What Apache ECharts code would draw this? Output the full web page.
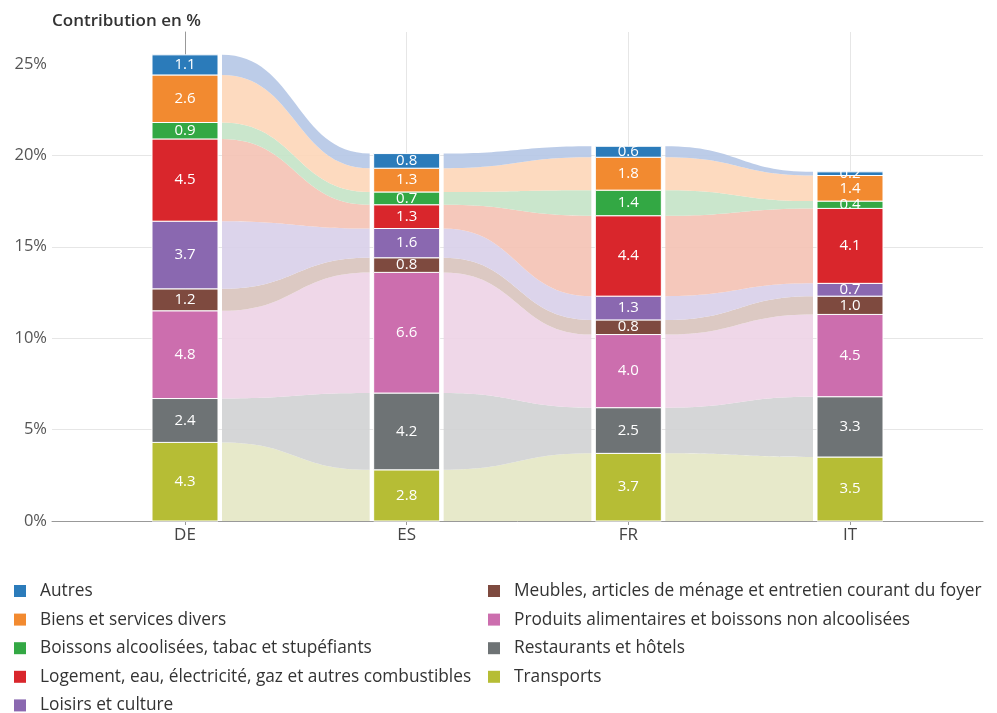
<!DOCTYPE html>
<html><head><meta charset="utf-8">
<script src="https://cdn.jsdelivr.net/npm/echarts@6/dist/echarts.min.js"></script>
<style>html,body{margin:0;padding:0;background:#fff}#c{width:997px;height:713px}</style>
</head><body><div id="c"></div>
<script>
// ---- DATA ----
const countries = ['DE', 'ES', 'FR', 'IT'];
const categoryNames = [
  'Transports',
  'Restaurants et hôtels',
  'Produits alimentaires et boissons non alcoolisées',
  'Meubles, articles de ménage et entretien courant du foyer',
  'Loisirs et culture',
  'Logement, eau, électricité, gaz et autres combustibles',
  'Boissons alcoolisées, tabac et stupéfiants',
  'Biens et services divers',
  'Autres'
];
const transports  = [4.3, 2.8, 3.7, 3.5];
const restaurants = [2.4, 4.2, 2.5, 3.3];
const produits    = [4.8, 6.6, 4.0, 4.5];
const meubles     = [1.2, 0.8, 0.8, 1.0];
const loisirs     = [3.7, 1.6, 1.3, 0.7];
const logement    = [4.5, 1.3, 4.4, 4.1];
const boissons    = [0.9, 0.7, 1.4, 0.4];
const biens       = [2.6, 1.3, 1.8, 1.4];
const autres      = [1.1, 0.8, 0.6, 0.2];
const yTicks = [0, 5, 10, 15, 20, 25];
const legendLeft = ['Autres', 'Biens et services divers', 'Boissons alcoolisées, tabac et stupéfiants',
  'Logement, eau, électricité, gaz et autres combustibles', 'Loisirs et culture'];
const legendRight = ['Meubles, articles de ménage et entretien courant du foyer',
  'Produits alimentaires et boissons non alcoolisées', 'Restaurants et hôtels', 'Transports'];

// ---- STYLE ----
const barColors = ['#b6bd35', '#6e7375', '#cc6eae', '#7e4a3f', '#8a68b0', '#d9262c', '#33a844', '#f28a30', '#2b7bba'];
const ribbonColors = ['#e4e7c4', '#d0d1d3', '#edd3e6', '#d8c3bd', '#d8cfe9', '#f4c2b4', '#c4e3c6', '#fdd6b8', '#b5c6e5'];
const BAR_HALF = 33, GAP = 4;
const FONT = '"Open Sans", "Noto Sans", sans-serif';

const seriesValues = [transports, restaurants, produits, meubles, loisirs, logement, boissons, biens, autres];
const bases = seriesValues.map(() => countries.map(() => 0));
countries.forEach((c, i) => {
  let acc = 0;
  seriesValues.forEach((vals, k) => { bases[k][i] = acc; acc += vals[i]; });
});

function makeRender(k) {
  return function (params, api) {
    const i = api.value(0);
    const b = api.value(1), v = api.value(2);
    const p0 = api.coord([i, b]);
    const p1 = api.coord([i, b + v]);
    const children = [];
    const hasNext = i < countries.length - 1;
    if (hasNext) {
      const nb = api.value(3), nv = api.value(4);
      const q0 = api.coord([i + 1, nb]);
      const q1 = api.coord([i + 1, nb + nv]);
      const xs = p0[0] + BAR_HALF + GAP, xe = q0[0] - BAR_HALF - GAP, xm = (xs + xe) / 2;
      const d = `M${xs},${p1[1]} C${xm},${p1[1]} ${xm},${q1[1]} ${xe},${q1[1]} L${xe},${q0[1]} C${xm},${q0[1]} ${xm},${p0[1]} ${xs},${p0[1]} Z`;
      children.push({ type: 'path', z2: 1, shape: { pathData: d }, style: { fill: ribbonColors[k], opacity: 0.9 } });
    }
    children.push({ type: 'rect', z2: 5, shape: { x: p0[0] - BAR_HALF, y: p1[1], width: BAR_HALF * 2, height: p0[1] - p1[1] },
      style: { fill: barColors[k], stroke: '#fff', lineWidth: 1 } });
    children.push({ type: 'text', z2: 6, x: p0[0], y: (p0[1] + p1[1]) / 2,
      style: { text: v.toFixed(1), fill: '#fff', font: '15px ' + FONT, align: 'center', verticalAlign: 'middle' } });
    return { type: 'group', children };
  };
}

const series = seriesValues.map((vals, k) => ({
  type: 'custom',
  name: categoryNames[k],
  itemStyle: { color: barColors[k] },
  renderItem: makeRender(k),
  clip: false,
  silent: true,
  data: countries.map((c, i) => [i, bases[k][i], vals[i],
    i < countries.length - 1 ? bases[k][i + 1] : 0,
    i < countries.length - 1 ? vals[i + 1] : 0])
}));

const chart = echarts.init(document.getElementById('c'), null, { renderer: 'canvas' });
const legendCommon = {
  orient: 'vertical', icon: 'rect', itemWidth: 12, itemHeight: 12, itemGap: 10.6,
  padding: 0, height: 150, selectedMode: false,
  textStyle: { color: '#333', fontSize: 17.3, fontFamily: FONT, lineHeight: 18, padding: [0, 0, 0, 9] }
};
chart.setOption({
  animation: false,
  title: { text: 'Contribution en %', left: 47, top: 8,
    textStyle: { color: '#333', fontSize: 17, fontWeight: 600, fontFamily: FONT } },
  grid: { left: 52, right: 14, top: 32, bottom: 192, containLabel: false },
  legend: [
    Object.assign({ left: 14, top: 582, data: legendLeft }, legendCommon),
    Object.assign({ left: 488, top: 582, data: legendRight }, legendCommon)
  ],
  xAxis: {
    type: 'value', min: -0.6, max: 3.6,
    axisLine: { show: true, lineStyle: { color: '#999' } },
    axisTick: { show: true, length: 4, customValues: [0, 1, 2, 3], lineStyle: { color: '#999' } },
    axisLabel: { customValues: [0, 1, 2, 3], formatter: v => countries[Math.round(v)] || '',
      color: '#444', fontSize: 17, fontFamily: FONT, margin: 6 },
    splitLine: { show: true, lineStyle: { color: '#e6e6e6' } }
  },
  yAxis: {
    type: 'value', min: 0, max: 26.75,
    axisLine: { show: true, lineStyle: { color: '#999' } },
    axisTick: { show: true, length: 4, customValues: yTicks, lineStyle: { color: '#999' } },
    axisLabel: { customValues: yTicks, formatter: v => v + '%', color: '#555', fontSize: 16.5, fontFamily: FONT, margin: 5 },
    splitLine: { show: true, showMaxLine: false, lineStyle: { color: '#e6e6e6' } }
  },
  series
});
</script></body></html>
